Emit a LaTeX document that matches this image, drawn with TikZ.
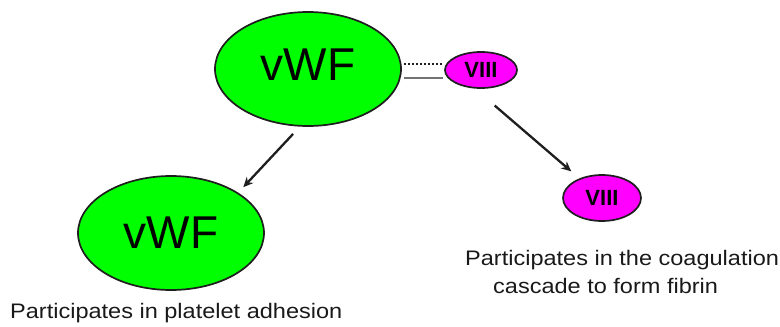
\documentclass[tikz,border=0pt]{standalone}
\usepackage{fontspec}
\setmainfont{Liberation Sans}
\usepackage{graphicx}
\usetikzlibrary{arrows.meta,shapes.geometric}

\definecolor{vwfgreen}{HTML}{00FF00}
\definecolor{fviiipink}{HTML}{FF00FF}
\definecolor{inkline}{HTML}{1E1E1E}

\tikzset{
  protein/.style={ellipse, draw=inkline, line width=1.7pt, inner sep=0pt},
  bigprot/.style={protein, fill=vwfgreen, minimum width=186pt, minimum height=114pt,
                  font=\fontsize{46}{50}\selectfont},
  smallprot/.style={protein, fill=fviiipink, font=\fontsize{22}{24}\selectfont\bfseries},
  arr/.style={-{Stealth[length=10pt,width=9pt]}, line width=2.3pt, draw=inkline},
  linkdot/.style={line width=2.2pt, draw=inkline, dash pattern=on 2.5pt off 1.5pt},
  linkgray/.style={line width=2.2pt, draw=black!55},
  note/.style={inner sep=0pt, text=black!90, font=\fontsize{21}{24}\selectfont},
}

\begin{document}
\begin{tikzpicture}[x=1pt, y=-1pt]
  \useasboundingbox (0,0) rectangle (780,327);

  % proteins
  \node[bigprot, text depth=8pt] (vwfA) at (308,69) {vWF};
  \node[bigprot] (vwfB) at (171,233) {vWF};
  \node[smallprot, minimum width=72pt, minimum height=36pt] (fviiiA) at (481,70) {VIII};
  \node[smallprot, minimum width=78pt, minimum height=46pt] (fviiiB) at (602,198) {VIII};

  % binding between vWF and factor VIII
  \coordinate (bondhi) at (0,64);
  \coordinate (bondlo) at (0,78);
  \draw[linkdot, shorten <=2pt, shorten >=1pt] (vwfA.east |- bondhi) -- (fviiiA.west |- bondhi);
  \draw[linkgray, shorten <=2pt, shorten >=1pt] (vwfA.east |- bondlo) -- (fviiiA.west |- bondlo);

  % release arrows
  \draw[arr, shorten <=10pt, shorten >=7.4pt] (vwfA.-98) -- (vwfB.31.6);
  \draw[arr, shorten <=26pt, shorten >=10.7pt] (fviiiA.-108) -- (fviiiB.139);

  % captions
  \node[note, anchor=base west] (capvwf) at (10,318)
    {\scalebox{1.12}[1]{Participates in platelet adhesion}};
  \node[note, anchor=base west] (capfviiiA) at (465,265)
    {\scalebox{1.12}[1]{Participates in the coagulation}};
  \node[note, anchor=base west] (capfviiiB) at (493,293)
    {\scalebox{1.12}[1]{cascade to form fibrin}};
\end{tikzpicture}
\end{document}
